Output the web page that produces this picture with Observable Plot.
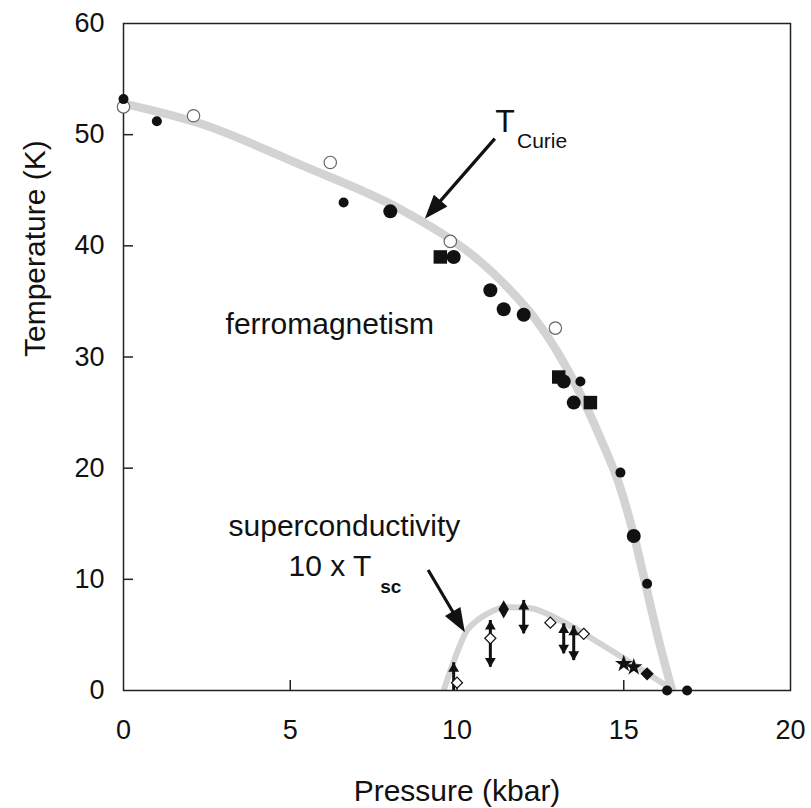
<!DOCTYPE html>
<html>
<head>
<meta charset="utf-8">
<script src="https://cdn.jsdelivr.net/npm/d3@7"></script>
<script src="https://cdn.jsdelivr.net/npm/@observablehq/plot@0.6"></script>
<style>
  html, body { margin: 0; padding: 0; background: #fff; }
</style>
</head>
<body>
<div id="chart"></div>
<script>
// ---- Data ----
const xTicks = [0, 5, 10, 15, 20];
const yTicks = [0, 10, 20, 30, 40, 50, 60];
const xInnerTicks = [5, 10, 15];
const yInnerTicks = [10, 20, 30, 40, 50];

// grey guide curve for T_Curie (pressure kbar, temperature K)
const curieCurveP = [0, 2.3, 5.3, 8.3, 9.5, 10.45, 11.6, 12.3, 13.1, 13.9, 14.3, 14.9, 15.3, 15.65, 16.05, 16.45];
const curieCurveT = [52.8, 51.0, 47.3, 43.3, 41.2, 39.2, 36.0, 33.6, 30.0, 25.4, 22.7, 18.2, 14.0, 9.6, 4.5, 0];

// grey guide curve for the superconducting dome (10 x Tsc)
const scCurveP = [9.6, 9.9, 10.3, 10.6, 10.9, 11.5, 12.2, 13.1, 14.3, 15.1, 16.5];
const scCurveT = [0, 2.6, 5.4, 6.3, 6.9, 7.5, 7.4, 6.3, 4.2, 2.7, 0];

// filled circles, small
const filledSmall = [[0, 53.2], [1.0, 51.2], [6.6, 43.9], [13.7, 27.8], [14.9, 19.6], [15.7, 9.6], [16.3, 0], [16.9, 0]];
// filled circles, large
const filledLarge = [[8.0, 43.1], [9.9, 39.0], [11.0, 36.0], [11.4, 34.3], [12.0, 33.8], [13.2, 27.8], [13.5, 25.9], [15.3, 13.9]];
// open circles
const openCircles = [[0, 52.5], [2.1, 51.7], [6.2, 47.5], [9.8, 40.4], [12.95, 32.6]];
// filled squares
const filledSquares = [[9.5, 39.0], [13.05, 28.2], [14.0, 25.9]];

// superconductivity symbols
const openDiamonds = [[10.0, 0.7], [11.0, 4.7], [12.8, 6.1], [13.8, 5.1]];
const filledDiamonds = [[15.7, 1.5]];
const tallDiamonds = [[11.4, 7.3]];
const stars = [[15.0, 2.4], [15.3, 2.1]];
// double arrows: [pressure, lower, upper]
const doubleArrows = [[11.0, 2.1, 6.3], [12.0, 5.1, 8.1], [13.2, 3.3, 6.0], [13.5, 2.7, 5.8]];
// single up arrows: [pressure, lower, upper]
const upArrows = [[9.9, 0, 2.5]];

// annotation arrows (data coordinates: tail -> tip)
const annotArrows = [
  {x1: 11.15, y1: 49.6, x2: 9.05, y2: 42.4},
  {x1: 9.15, y1: 10.8, x2: 10.25, y2: 5.2}
];

const ink = "#111";
const grey = "#d3d3d3";
const font = "'Liberation Sans', Arial, Helvetica, sans-serif";

const curieCurve = curieCurveP.map((p, i) => ({p, t: curieCurveT[i]}));
const scCurve = scCurveP.map((p, i) => ({p, t: scCurveT[i]}));

const X = d => d[0], Y = d => d[1];

function arrowMark(index, scales) {
  const g = d3.create("svg:g");
  const headLen = 24, headHalf = 9;
  for (const a of annotArrows) {
    const x1 = scales.x(a.x1), y1 = scales.y(a.y1);
    const x2 = scales.x(a.x2), y2 = scales.y(a.y2);
    const dx = x2 - x1, dy = y2 - y1;
    const L = Math.hypot(dx, dy);
    const ux = dx / L, uy = dy / L;
    const bx = x2 - ux * headLen, by = y2 - uy * headLen;
    g.append("line")
      .attr("x1", x1).attr("y1", y1).attr("x2", bx + ux * 2).attr("y2", by + uy * 2)
      .attr("stroke", ink).attr("stroke-width", 3.2);
    g.append("path")
      .attr("d", `M${x2},${y2}L${bx - uy * headHalf},${by + ux * headHalf}L${bx + uy * headHalf},${by - ux * headHalf}Z`)
      .attr("fill", ink);
  }
  return g.node();
}

const chart = Plot.plot({
  width: 811,
  height: 808,
  marginLeft: 123,
  marginRight: 21,
  marginTop: 23,
  marginBottom: 118,
  style: {fontFamily: font, background: "#fff", color: ink},
  x: {domain: [0, 20]},
  y: {domain: [0, 60]},
  marks: [
    Plot.line(curieCurve, {x: "p", y: "t", curve: "monotone-x", stroke: grey, strokeWidth: 8.5, strokeLinecap: "butt"}),
    Plot.line(scCurve, {x: "p", y: "t", curve: "monotone-x", stroke: grey, strokeWidth: 6, strokeLinecap: "butt"}),
    Plot.frame({stroke: "#222", strokeWidth: 1.5}),
    Plot.ruleX(xInnerTicks, {x: d => d, y1: 0, y2: 0.9, stroke: "#222", strokeWidth: 1.5}),
    Plot.ruleY(yInnerTicks, {y: d => d, x1: 0, x2: 0.3, stroke: "#222", strokeWidth: 1.5}),
    Plot.axisX(xTicks, {tickSize: 0, tickPadding: 29, fontSize: 27, label: null}),
    Plot.axisY(yTicks, {tickSize: 0, tickPadding: 19, fontSize: 27, label: null}),
    Plot.text(["Pressure (kbar)"], {frameAnchor: "bottom", dy: 110, fontSize: 30, lineAnchor: "bottom", fill: ink}),
    Plot.text(["Temperature (K)"], {frameAnchor: "left", dx: -79, rotate: -90, fontSize: 30, lineAnchor: "bottom", fill: ink}),

    // ferromagnetic data
    Plot.dot(openCircles, {x: X, y: Y, r: 6.2, fill: "#fff", stroke: "#666", strokeWidth: 1.2}),
    Plot.dot(filledSquares, {x: X, y: Y, symbol: "square", r: 7.6, fill: ink}),
    Plot.dot(filledLarge, {x: X, y: Y, r: 7, fill: ink}),
    Plot.dot(filledSmall, {x: X, y: Y, r: 5, fill: ink}),

    // superconducting data
    Plot.ruleX(doubleArrows, {x: X, y1: d => d[1], y2: d => d[2], stroke: ink, strokeWidth: 3}),
    Plot.dot(doubleArrows, {x: X, y: d => d[2], symbol: "triangle", r: 4, dy: 6, fill: ink}),
    Plot.dot(doubleArrows, {x: X, y: d => d[1], symbol: "triangle", r: 4, dy: -6, rotate: 180, fill: ink}),
    Plot.ruleX(upArrows, {x: X, y1: d => d[1], y2: d => d[2], stroke: ink, strokeWidth: 3}),
    Plot.dot(upArrows, {x: X, y: d => d[2], symbol: "triangle", r: 4, dy: 6, fill: ink}),
    Plot.dot(tallDiamonds, {x: X, y: Y, symbol: "diamond", r: 5.5, fill: ink}),
    Plot.dot(openDiamonds, {x: X, y: Y, symbol: "diamond2", r: 5, fill: "#fff", stroke: ink, strokeWidth: 1.2}),
    Plot.dot(filledDiamonds, {x: X, y: Y, symbol: "diamond2", r: 6, fill: ink}),
    Plot.dot(stars, {x: X, y: Y, symbol: "star", r: 5.5, fill: ink}),

    // annotations
    arrowMark,
    Plot.text([{x: 11.15, y: 50.2, t: "T"}], {x: "x", y: "y", text: "t", fontSize: 32, textAnchor: "start", lineAnchor: "bottom", fill: ink}),
    Plot.text([{x: 11.8, y: 48.8, t: "Curie"}], {x: "x", y: "y", text: "t", fontSize: 21, textAnchor: "start", lineAnchor: "bottom", fill: ink}),
    Plot.text([{x: 3.06, y: 32.1, t: "ferromagnetism"}], {x: "x", y: "y", text: "t", fontSize: 30, textAnchor: "start", lineAnchor: "bottom", fill: ink}),
    Plot.text([{x: 3.15, y: 13.9, t: "superconductivity"}], {x: "x", y: "y", text: "t", fontSize: 30, textAnchor: "start", lineAnchor: "bottom", fill: ink}),
    Plot.text([{x: 4.95, y: 10.34, t: "10 x T"}], {x: "x", y: "y", text: "t", fontSize: 30, textAnchor: "start", lineAnchor: "bottom", fill: ink}),
    Plot.text([{x: 7.7, y: 8.8, t: "sc"}], {x: "x", y: "y", text: "t", fontSize: 19, fontWeight: "bold", textAnchor: "start", lineAnchor: "bottom", fill: ink})
  ]
});

document.getElementById("chart").appendChild(chart);
</script>
</body>
</html>
